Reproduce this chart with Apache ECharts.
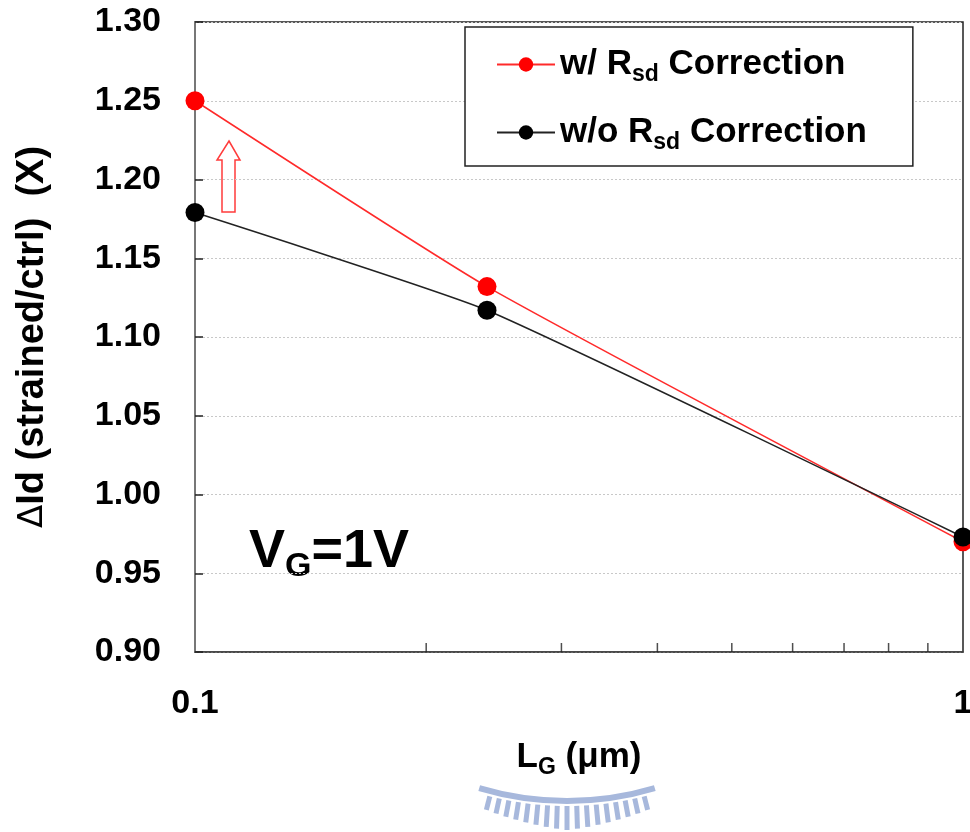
<!DOCTYPE html>
<html>
<head>
<meta charset="UTF-8">
<title>Id gain vs LG</title>
<script src="https://cdn.jsdelivr.net/npm/echarts@6/dist/echarts.min.js"></script>
<style>
  * { margin: 0; padding: 0; }
  body { background: #fff; }
  #main { width: 970px; height: 832px; }
</style>
</head>
<body>
<div id="main"></div>
<script>
// gate length (um) and drain current ratio
var lg = [0.1, 0.24, 1];
var withRsd = [1.250, 1.132, 0.970];
var withoutRsd = [1.179, 1.117, 0.973];
var minorTickVals = [0.2, 0.3, 0.4, 0.5, 0.6, 0.7, 0.8, 0.9];
var seriesNames = ['w/ Rsd Correction', 'w/o Rsd Correction'];

var font = 'Liberation Sans, Arial, sans-serif';

function pairs(xs, ys) {
  var out = [];
  for (var i = 0; i < xs.length; i++) out.push([xs[i], ys[i]]);
  return out;
}

// watermark arc (decoration at the bottom)
var mark = [];
var cx = 567, cy = 494, R = 307;
mark.push({
  type: 'arc', silent: true,
  shape: { cx: cx, cy: cy, r: R, startAngle: Math.PI / 2 - 0.29, endAngle: Math.PI / 2 + 0.29 },
  style: { stroke: '#a7b8dc', lineWidth: 6, fill: null }
});
var nT = 17;
for (var i = 0; i < nT; i++) {
  var t = -1 + 2 * i / (nT - 1);
  var a = Math.PI / 2 + t * 0.25;
  var len = 24 - 10 * Math.abs(t);
  mark.push({
    type: 'line', silent: true,
    shape: {
      x1: cx + Math.cos(a) * (R + 5), y1: cy + Math.sin(a) * (R + 5),
      x2: cx + Math.cos(a) * (R + 5 + len), y2: cy + Math.sin(a) * (R + 5 + len)
    },
    style: { stroke: '#a7b8dc', lineWidth: 5 }
  });
}

var myChart = echarts.init(document.getElementById('main'));
var option = {
  backgroundColor: '#fff',
  animation: false,
  grid: {
    left: 195, right: 7, top: 22, bottom: 180,
    outerBoundsMode: 'none',
    show: true, borderColor: '#222', borderWidth: 1.5
  },
  legend: {
    data: seriesNames,
    orient: 'vertical',
    left: 465, top: 27,
    padding: [20, 46, 12, 31],
    itemGap: 29,
    itemWidth: 58,
    itemHeight: 18,
    borderColor: '#222',
    borderWidth: 1.5,
    backgroundColor: '#fff',
    formatter: function (name) {
      return name.indexOf('w/o') === 0
        ? '{a|w/o R}{b|sd}{a| Correction}'
        : '{a|w/ R}{b|sd}{a| Correction}';
    },
    textStyle: {
      rich: {
        a: { fontFamily: font, fontWeight: 'bold', fontSize: 35, color: '#000' },
        b: { fontFamily: font, fontWeight: 'bold', fontSize: 23, color: '#000', padding: [20, 0, 0, 0] }
      }
    }
  },
  xAxis: {
    type: 'log',
    logBase: 10,
    min: 0.1,
    max: 1,
    name: '{a|L}{b|G}{a| (μm)}',
    nameLocation: 'middle',
    nameGap: 84,
    nameTextStyle: {
      rich: {
        a: { fontFamily: font, fontWeight: 'bold', fontSize: 35, color: '#000' },
        b: { fontFamily: font, fontWeight: 'bold', fontSize: 23, color: '#000', padding: [20, 0, 0, 0] }
      }
    },
    axisLine: { lineStyle: { color: '#444', width: 1.5 } },
    axisTick: { show: false },
    splitLine: { show: false },
    axisLabel: {
      margin: 35,
      fontFamily: font, fontWeight: 'bold', fontSize: 34, color: '#000',
      formatter: function (v) { return String(v); }
    }
  },
  yAxis: {
    type: 'value',
    min: 0.9,
    max: 1.3,
    interval: 0.05,
    name: '{d|Δ}{a|Id (strained/ctrl)  (X)}',
    nameLocation: 'middle',
    nameGap: 143,
    nameTextStyle: {
      rich: {
        d: { fontFamily: 'DejaVu Sans, sans-serif', fontWeight: 'normal', fontSize: 34, color: '#000' },
        a: { fontFamily: font, fontWeight: 'bold', fontSize: 38, color: '#000' }
      }
    },
    axisLine: { show: true, lineStyle: { color: '#777', width: 2 } },
    axisTick: { show: true, inside: true, length: 8, lineStyle: { color: '#222', width: 1.5 } },
    splitLine: { show: true, lineStyle: { color: '#c8c8c8', type: [2, 2], width: 1 } },
    axisLabel: {
      margin: 34,
      fontFamily: font, fontWeight: 'bold', fontSize: 34, color: '#000',
      formatter: function (v) { return v.toFixed(2); }
    }
  },
  series: [
    {
      name: seriesNames[0],
      type: 'line',
      data: pairs(lg, withRsd),
      smooth: 0.15,
      symbol: 'circle',
      symbolSize: 19,
      clip: false,
      z: 3,
      itemStyle: { color: '#ff0000' },
      lineStyle: { color: '#ff2a2a', width: 1.5 }
    },
    {
      name: seriesNames[1],
      type: 'line',
      data: pairs(lg, withoutRsd),
      smooth: 0.15,
      symbol: 'circle',
      symbolSize: 19,
      clip: false,
      z: 4,
      itemStyle: { color: '#000' },
      lineStyle: { color: '#222', width: 1.5 }
    },
    {
      // minor ticks on the log axis (0.2 ... 0.9)
      name: 'minor',
      type: 'scatter',
      silent: true,
      data: minorTickVals.map(function (v) { return [v, 0.9]; }),
      symbol: 'rect',
      symbolSize: [1.5, 9],
      symbolOffset: [0, -4.5],
      itemStyle: { color: '#222' },
      z: 5
    }
  ],
  graphic: [
    {
      type: 'polygon',
      silent: true,
      shape: { points: [[229, 141], [240, 160], [235, 160], [235, 212], [222, 212], [222, 160], [217, 160]] },
      style: { fill: '#fff', stroke: '#ff3b3b', lineWidth: 1.5 }
    },
    {
      type: 'text',
      left: 249, top: 525,
      silent: true,
      style: {
        text: '{a|V}{b|G}{a|=1V}',
        rich: {
          a: { fontFamily: font, fontWeight: 'bold', fontSize: 54, fill: '#000' },
          b: { fontFamily: font, fontWeight: 'bold', fontSize: 34, fill: '#000', padding: [30, 0, 0, 0] }
        }
      }
    }
  ].concat(mark)
};
myChart.setOption(option);
</script>
</body>
</html>
